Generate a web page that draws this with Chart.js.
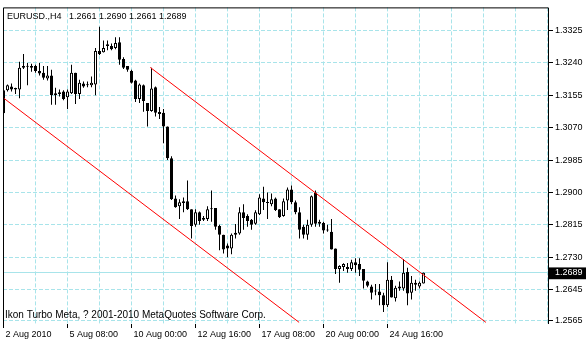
<!DOCTYPE html>
<html lang="en">
<head>
<meta charset="UTF-8">
<title>EURUSD H4</title>
<script src="https://cdn.jsdelivr.net/npm/chart.js"></script>
<style>
    body { margin: 0; background: #fff; }
    .wrap { width: 586px; height: 340px; position: relative; }
</style>
</head>
<body>
<div class="wrap"><canvas id="chart"></canvas></div>
<script>
// H4 bars (bar index 0 = first bar on the left)
const opens = [
    1.3108,1.3168,1.3178,1.3174,1.3170,1.3227,1.3232,1.3232,1.3232,1.3219,
    1.3214,1.3199,1.3207,1.3155,1.3163,1.3165,1.3150,1.3160,1.3214,1.3158,
    1.3186,1.3183,1.3181,1.3183,1.3271,1.3268,1.3289,1.3284,1.3279,1.3294,
    1.3250,1.3232,1.3219,1.3194,1.3145,1.3181,1.3135,1.3114,1.3176,1.3111,
    1.3109,1.3073,1.2990,1.2884,1.2864,1.2877,1.2877,1.2856,1.2815,1.2848,
    1.2833,1.2830,1.2856,1.2859,1.2812,1.2789,1.2761,1.2753,1.2794,1.2792,
    1.2848,1.2838,1.2828,1.2818,1.2843,1.2884,1.2874,1.2869,1.2884,1.2856,
    1.2838,1.2879,1.2908,1.2874,1.2848,1.2810,1.2789,1.2815,1.2900,1.2823,
    1.2820,1.2802,1.2797,1.2753,1.2699,1.2704,1.2704,1.2699,1.2717,1.2712,
    1.2699,1.2666,1.2653,1.2642,1.2640,1.2630,1.2604,1.2671,1.2622,1.2653,
    1.2648,1.2691,1.2637,1.2663,1.2653,1.2661
];
const highs = [
    1.3196,1.3183,1.3186,1.3175,1.3243,1.3263,1.3240,1.3238,1.3235,1.3240,
    1.3232,1.3232,1.3222,1.3175,1.3170,1.3168,1.3170,1.3235,1.3214,1.3196,
    1.3191,1.3191,1.3204,1.3279,1.3335,1.3299,1.3299,1.3291,1.3307,1.3307,
    1.3255,1.3232,1.3222,1.3196,1.3186,1.3183,1.3135,1.3227,1.3178,1.3124,
    1.3119,1.3073,1.2995,1.2892,1.2882,1.2887,1.2931,1.2856,1.2856,1.2850,
    1.2838,1.2864,1.2905,1.2859,1.2815,1.2789,1.2766,1.2792,1.2817,1.2861,
    1.2869,1.2843,1.2830,1.2853,1.2895,1.2915,1.2900,1.2897,1.2887,1.2856,
    1.2884,1.2913,1.2918,1.2879,1.2861,1.2815,1.2828,1.2892,1.2905,1.2828,
    1.2823,1.2815,1.2830,1.2753,1.2709,1.2714,1.2715,1.2723,1.2727,1.2727,
    1.2699,1.2668,1.2658,1.2660,1.2660,1.2637,1.2717,1.2681,1.2655,1.2666,
    1.2725,1.2702,1.2681,1.2671,1.2666,1.2690
];
const lows = [
    1.3105,1.3165,1.3165,1.3158,1.3147,1.3224,1.3181,1.3217,1.3214,1.3207,
    1.3196,1.3194,1.3130,1.3130,1.3152,1.3142,1.3119,1.3158,1.3132,1.3145,
    1.3175,1.3176,1.3176,1.3155,1.3261,1.3267,1.3273,1.3273,1.3276,1.3235,
    1.3224,1.3217,1.3186,1.3137,1.3135,1.3112,1.3073,1.3112,1.3099,1.3093,
    1.3029,1.2985,1.2880,1.2860,1.2830,1.2848,1.2854,1.2779,1.2810,1.2815,
    1.2825,1.2825,1.2823,1.2802,1.2748,1.2740,1.2730,1.2738,1.2779,1.2789,
    1.2802,1.2810,1.2802,1.2815,1.2841,1.2854,1.2830,1.2864,1.2851,1.2833,
    1.2836,1.2854,1.2869,1.2843,1.2779,1.2779,1.2776,1.2810,1.2810,1.2810,
    1.2792,1.2797,1.2750,1.2686,1.2663,1.2694,1.2689,1.2694,1.2689,1.2681,
    1.2648,1.2651,1.2619,1.2630,1.2604,1.2586,1.2599,1.2624,1.2614,1.2642,
    1.2642,1.2604,1.2619,1.2642,1.2648,1.2661
];
const closes = [
    1.3168,1.3181,1.3170,1.3170,1.3227,1.3232,1.3230,1.3227,1.3219,1.3212,
    1.3201,1.3207,1.3155,1.3160,1.3158,1.3145,1.3165,1.3214,1.3158,1.3188,
    1.3178,1.3181,1.3188,1.3271,1.3263,1.3279,1.3284,1.3276,1.3292,1.3248,
    1.3227,1.3222,1.3188,1.3145,1.3183,1.3140,1.3114,1.3173,1.3109,1.3106,
    1.3073,1.2990,1.2882,1.2861,1.2874,1.2872,1.2856,1.2812,1.2848,1.2825,
    1.2828,1.2856,1.2856,1.2810,1.2789,1.2750,1.2753,1.2789,1.2789,1.2848,
    1.2833,1.2825,1.2815,1.2848,1.2887,1.2874,1.2872,1.2882,1.2854,1.2835,
    1.2877,1.2908,1.2874,1.2848,1.2802,1.2789,1.2815,1.2890,1.2818,1.2818,
    1.2800,1.2800,1.2750,1.2699,1.2707,1.2712,1.2699,1.2717,1.2709,1.2697,
    1.2668,1.2655,1.2637,1.2640,1.2630,1.2604,1.2671,1.2624,1.2650,1.2648,
    1.2689,1.2635,1.2663,1.2658,1.2663,1.2689
];

// price scale labels on the right
const priceTicks = [1.2565, 1.2645, 1.2730, 1.2815, 1.2900, 1.2985, 1.3070, 1.3155, 1.3240, 1.3325];
const lastPrice = 1.2689;

// time labels (bar index -> text)
const timeTickBars = [0, 16, 32, 48, 64, 80, 96];
const timeTickLabels = ['2 Aug 2010', '5 Aug 08:00', '10 Aug 00:00', '12 Aug 16:00', '17 Aug 08:00', '20 Aug 00:00', '24 Aug 16:00'];

// trend channel (bar index, price)
const lowerTrend = [{x: 0.1, y: 1.3147}, {x: 73.9, y: 1.2559}];
const upperTrend = [{x: 36.7, y: 1.3228}, {x: 120.6, y: 1.2559}];

const headerText = 'EURUSD.,H4   1.2661 1.2690 1.2661 1.2689';
const footerText = 'Ikon Turbo Meta, ? 2001-2010 MetaQuotes Software Corp.';

const gridColor = '#a8e4ea';
const FONT = '"Liberation Sans", Arial, sans-serif';

const wickData = lows.map((l, i) => ({x: i, y: [l, highs[i]]}));
const bodyData = opens.map((o, i) => ({x: i, y: [o, closes[i]]}));

// frame and the two overlay texts
const framePlugin = {
    id: 'frame',
    afterDatasetsDraw(chart) {
        const {ctx, chartArea: a} = chart;
        ctx.save();
        ctx.strokeStyle = '#000';
        ctx.lineWidth = 1;
        ctx.beginPath();
        ctx.moveTo(a.left + 0.5, a.bottom);
        ctx.lineTo(a.left + 0.5, a.top + 0.5);
        ctx.lineTo(a.right - 0.5, a.top + 0.5);
        ctx.lineTo(a.right - 0.5, a.bottom);
        ctx.stroke();
        ctx.fillStyle = '#000';
        ctx.textBaseline = 'middle';
        ctx.font = '9px ' + FONT;
        ctx.fillText(headerText, a.left + 4, a.top + 9);
        ctx.font = '10px ' + FONT;
        ctx.fillText(footerText, a.left + 2, a.bottom - 9);
        ctx.restore();
    }
};

new Chart(document.getElementById('chart'), {
    type: 'bar',
    data: {
        datasets: [
            {
                type: 'line', data: lowerTrend, borderColor: '#ff0000', borderWidth: 1,
                pointRadius: 0, order: 0
            },
            {
                type: 'line', data: upperTrend, borderColor: '#ff0000', borderWidth: 1,
                pointRadius: 0, order: 0
            },
            {
                data: bodyData, grouped: false, order: 1,
                barThickness: 3, minBarLength: 1, inflateAmount: 0,
                borderWidth: 1, borderSkipped: false, borderColor: '#000',
                backgroundColor: ctx => closes[ctx.dataIndex] > opens[ctx.dataIndex] ? '#fff' : '#000'
            },
            {
                data: wickData, grouped: false, order: 2,
                barThickness: 1, inflateAmount: 0, borderWidth: 0,
                backgroundColor: '#000'
            }
        ]
    },
    options: {
        responsive: true,
        maintainAspectRatio: false,
        animation: false,
        events: [],
        layout: { padding: { left: 3, top: 2, right: 0, bottom: 0 } },
        plugins: { legend: { display: false }, tooltip: { enabled: false } },
        scales: {
            x: {
                type: 'linear',
                min: -0.125,
                max: 136.375,
                offset: false,
                afterBuildTicks: scale => {
                    const t = [];
                    for (let i = 0; i <= 136; i += 8) t.push({value: i});
                    scale.ticks = t;
                },
                afterFit: scale => { scale.height = 16; },
                grid: {
                    color: gridColor,
                    offset: false,
                    tickLength: 4,
                    tickColor: ctx => timeTickBars.includes(ctx.tick && ctx.tick.value) ? '#000' : 'rgba(0,0,0,0)'
                },
                border: { display: false, dash: [4, 2] },
                ticks: {
                    autoSkip: false,
                    maxRotation: 0,
                    align: 'start',
                    labelOffset: 2,
                    padding: 1,
                    color: '#000',
                    font: { family: FONT, size: 9 },
                    callback: v => {
                        const k = timeTickBars.indexOf(v);
                        return k >= 0 ? timeTickLabels[k] : '';
                    }
                }
            },
            y: {
                type: 'linear',
                position: 'right',
                min: 1.25547,
                max: 1.33856,
                afterBuildTicks: scale => {
                    scale.ticks = priceTicks.concat([lastPrice]).sort((a, b) => a - b).map(v => ({value: v}));
                },
                afterFit: scale => { scale.width = 37; },
                grid: {
                    color: gridColor,
                    tickLength: 4,
                    tickColor: '#000'
                },
                border: {
                    display: false,
                    dash: ctx => (ctx.tick && ctx.tick.value === lastPrice) ? [] : [4, 2]
                },
                ticks: {
                    autoSkip: false,
                    padding: 2,
                    font: { family: FONT, size: 9 },
                    color: ctx => ctx.tick.value === lastPrice ? '#fff' : '#000',
                    showLabelBackdrop: ctx => ctx.tick.value === lastPrice,
                    backdropColor: '#000',
                    backdropPadding: { top: 0, bottom: 1, left: 6, right: 5 },
                    callback: v => v.toFixed(4)
                }
            }
        }
    },
    plugins: [framePlugin]
});
</script>
</body>
</html>
